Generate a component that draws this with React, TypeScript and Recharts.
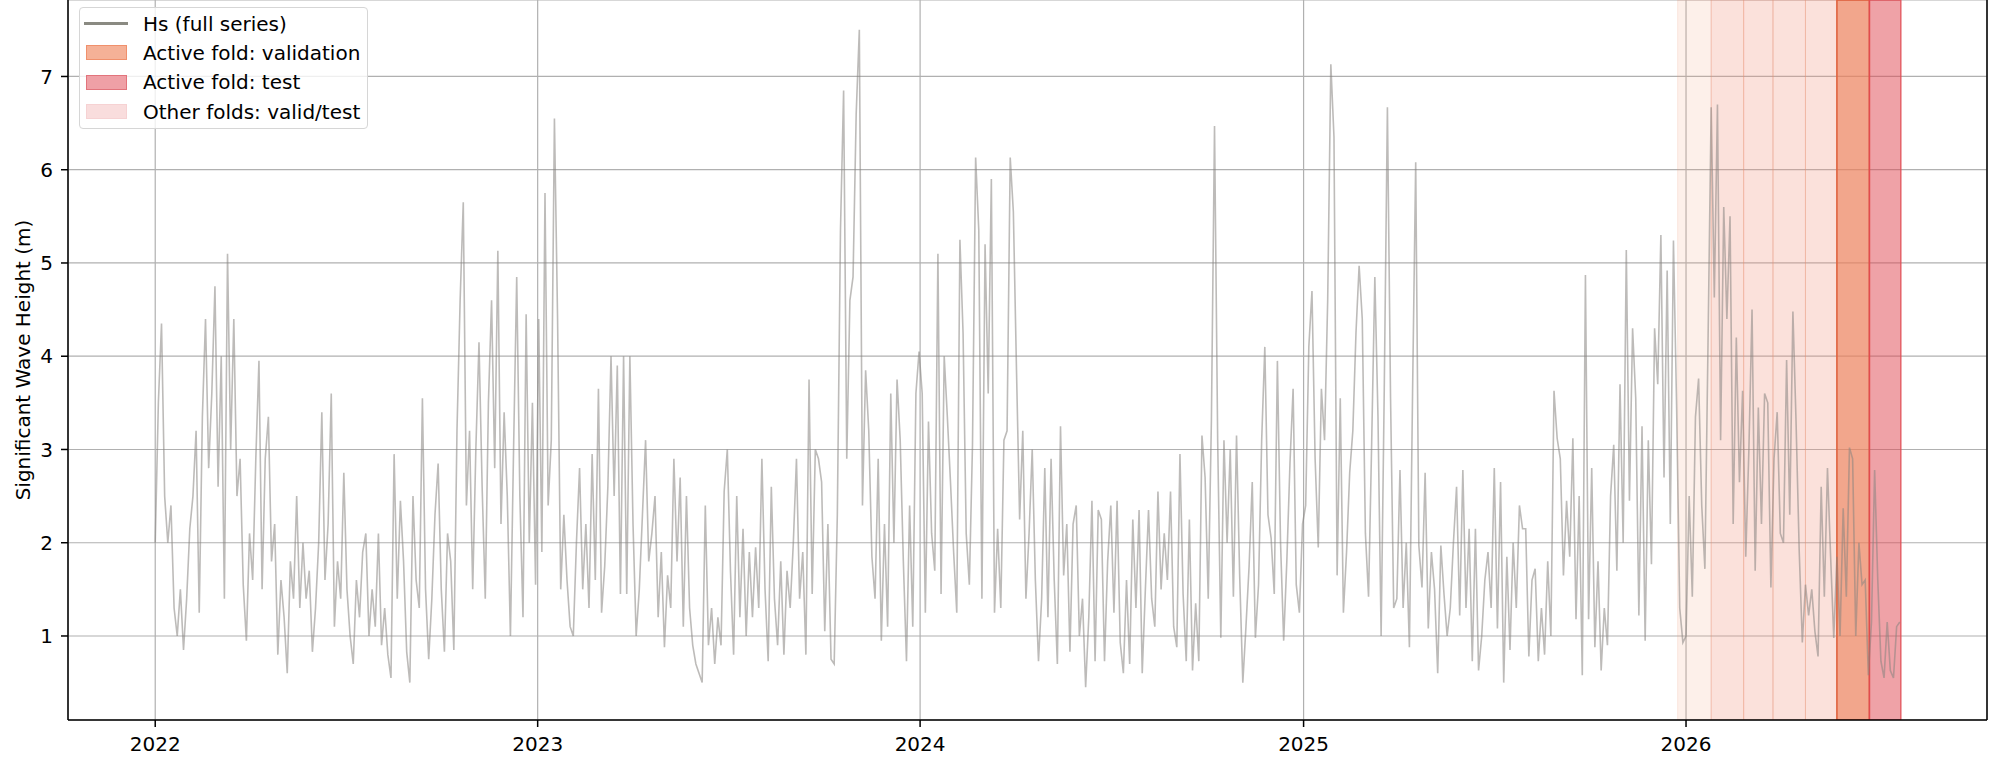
import React from 'react';
import {
  ComposedChart,
  Line,
  XAxis,
  YAxis,
  CartesianGrid,
  ReferenceArea,
  ReferenceLine,
} from 'recharts';

// Hs sampled every 3 days, day 0 = 2022-01-01
const STEP_DAYS = 3;

const hs2022 = [
  2.0, 3.5, 4.35, 2.5, 2.0, 2.4, 1.3, 1.0, 1.5, 0.85, 1.4,
  2.15, 2.5, 3.2, 1.25, 3.35, 4.4, 2.8, 3.6, 4.75,
  2.6, 4.0, 1.4, 5.1, 3.0, 4.4, 2.5, 2.9, 1.55, 0.95, 2.1,
  1.6, 2.9, 3.95, 1.5, 2.9, 3.35, 1.8, 2.2, 0.8, 1.6,
  1.2, 0.6, 1.8, 1.4, 2.5, 1.3, 2.0, 1.4, 1.7, 0.83,
  1.3, 2.0, 3.4, 1.6, 2.2, 3.6, 1.1, 1.8, 1.4, 2.75,
  1.5, 1.0, 0.7, 1.6, 1.2, 1.9, 2.1, 1.0, 1.5, 1.1,
  2.1, 0.9, 1.3, 0.8, 0.55, 2.95, 1.4, 2.45, 1.8, 0.83,
  0.5, 2.5, 1.6, 1.3, 3.55, 1.5, 0.75, 1.4, 2.3, 2.85,
  1.5, 0.83, 2.1, 1.8, 0.85, 3.2, 4.6, 5.65, 2.4, 3.2, 1.5,
  3.0, 4.15, 2.6, 1.4, 3.5, 4.6, 2.8, 5.13, 2.2, 3.4,
  2.5, 1.0, 3.0, 4.85, 2.5, 1.2, 4.45, 2.0, 3.5, 1.55,
];

const hs2023 = [
  4.4, 1.9, 5.75, 2.4, 3.1, 6.55, 4.4, 1.5, 2.3, 1.6,
  1.1, 1.0, 2.0, 2.8, 1.5, 2.2, 1.3, 2.95, 1.6,
  3.65, 1.25, 1.75, 2.6, 4.0, 2.5, 3.9, 1.45, 4.0, 1.45, 4.0,
  2.2, 1.0, 1.5, 2.3, 3.1, 1.8, 2.1, 2.5, 1.2, 1.9,
  0.88, 1.65, 1.3, 2.9, 1.8, 2.7, 1.1, 2.5, 1.3, 0.9,
  0.7, 0.6, 0.5, 2.4, 0.9, 1.3, 0.7, 1.2, 0.9, 2.55,
  3.0, 1.7, 0.8, 2.5, 1.2, 2.15, 1.0, 1.9, 1.2, 1.95,
  1.3, 2.9, 1.5, 0.73, 2.6, 1.4, 0.9, 1.8, 0.8, 1.7,
  1.3, 2.0, 2.9, 1.4, 1.9, 0.8, 3.75, 1.45, 3.0, 2.9,
  2.65, 1.05, 2.2, 0.75, 0.7, 2.3, 5.35, 6.85, 2.9, 4.6,
  4.85, 6.6, 7.5, 2.4, 3.85, 3.2, 1.85, 1.4, 2.9, 0.95,
  2.2, 1.1, 3.6, 2.0, 3.75, 3.1, 1.8, 0.73, 2.4, 1.1, 3.6, 4.05,
];

const hs2024 = [
  3.6, 1.25, 3.3, 2.1, 1.7, 5.1, 1.45, 4.0, 3.35, 2.65,
  1.9, 1.25, 5.25, 4.25, 2.1, 1.55, 3.05, 6.13, 5.35, 1.4,
  5.2, 3.6, 5.9, 1.25, 2.15, 1.3, 3.1, 3.2, 6.13, 5.55,
  3.85, 2.25, 3.2, 1.4, 2.1, 3.0, 1.6, 0.73, 1.4, 2.8,
  1.2, 2.9, 1.6, 0.7, 3.25, 1.65, 2.2, 0.83, 2.2, 2.4,
  1.0, 1.4, 0.45, 1.2, 2.45, 0.73, 2.35, 2.25, 0.73, 1.8,
  2.4, 1.25, 2.45, 0.93, 0.6, 1.6, 0.7, 2.25, 1.3, 2.35,
  0.6, 1.5, 2.35, 1.4, 1.1, 2.55, 1.5, 2.1, 1.6, 2.55,
  1.1, 0.88, 2.95, 1.45, 0.73, 2.25, 0.63, 1.35, 0.73, 3.15,
  2.7, 1.4, 3.3, 6.47, 3.1, 0.98, 3.1, 2.0, 3.0, 1.42,
  3.15, 1.65, 0.5, 1.1, 1.75, 2.65, 0.98, 1.55, 3.1, 4.1,
  2.3, 2.05, 1.45, 3.95, 2.0, 0.95, 1.8, 2.85, 3.65, 1.55, 1.25, 2.2,
];

const hs2025 = [
  2.4, 4.1, 4.7, 2.9, 1.95, 3.65, 3.1, 4.6, 7.13, 6.35,
  1.65, 3.55, 1.25, 1.9, 2.75, 3.2, 4.25, 4.97, 4.4, 2.1,
  1.42, 3.08, 4.85, 3.35, 1.0, 3.65, 6.67, 3.55, 1.3, 1.4,
  2.78, 1.3, 2.0, 0.88, 3.6, 6.08, 1.97, 1.52, 2.75, 1.08,
  1.9, 1.5, 0.6, 1.97, 1.45, 1.0, 1.3, 2.0, 2.6, 1.22,
  2.78, 1.3, 2.15, 0.73, 2.15, 0.63, 1.0, 1.6, 1.9, 1.3,
  2.8, 1.08, 2.65, 0.5, 1.85, 0.85, 2.0, 1.3, 2.4, 2.15,
  2.15, 0.78, 1.6, 1.72, 0.73, 1.3, 0.8, 1.8, 1.0, 3.63,
  3.12, 2.9, 1.65, 2.45, 1.85, 3.12, 1.18, 2.5, 0.58, 4.87,
  1.18, 2.8, 0.88, 1.8, 0.63, 1.3, 0.9, 2.5, 3.05, 1.7,
  3.7, 2.0, 5.14, 2.45, 4.3, 3.55, 1.22, 3.25, 0.95, 3.1,
  1.77, 4.3, 3.7, 5.3, 2.7, 4.92, 2.2, 5.24, 3.47, 1.3, 0.93, 1.0,
];

const hs2026 = [
  2.5, 1.42, 3.35, 3.76, 2.4, 1.72, 4.15, 6.67, 4.63, 6.7,
  3.1, 5.6, 4.4, 5.5, 2.2, 4.2, 2.65, 3.63, 1.85, 3.0,
  4.5, 1.7, 3.45, 2.2, 3.6, 3.5, 1.52, 2.9, 3.4, 2.1,
  2.0, 3.96, 2.3, 4.48, 3.3, 1.92, 0.93, 1.55, 1.22, 1.5,
  1.05, 0.78, 2.6, 1.42, 2.8, 1.85, 0.98, 1.85, 1.0, 2.37,
  1.42, 3.02, 2.9, 1.0, 2.0, 1.55, 1.6, 0.58, 1.15, 2.78,
  1.6, 0.73, 0.55, 1.15, 0.63, 0.55, 1.1, 1.15,
];

const yearTicks = [0, 365, 730, 1096, 1461];
const yearLabels = ['2022', '2023', '2024', '2025', '2026'];
const hsTicks = [1, 2, 3, 4, 5, 6, 7];

// fold boundaries (days), the 25th of each month Dec 2025 .. Jul 2026
const foldEdges = [1453, 1485, 1516, 1544, 1575, 1605, 1636, 1666];
const activeFold = 5;

const legendLabels = [
  'Hs (full series)',
  'Active fold: validation',
  'Active fold: test',
  'Other folds: valid/test',
];

const series = [...hs2022, ...hs2023, ...hs2024, ...hs2025, ...hs2026];
const data = series.map((hs, i) => ({ day: i * STEP_DAYS, hs }));

const X_DOMAIN: [number, number] = [-83.25, 1748.25];
const Y_DOMAIN: [number, number] = [0.099, 7.82];
const FONT = '"DejaVu Sans", sans-serif';

const swatches = [
  { kind: 'line', color: '#8a8a82' },
  { kind: 'box', fill: '#f5b197', border: '#f0906c' },
  { kind: 'box', fill: '#efa0a6', border: '#e2747c' },
  { kind: 'box', fill: '#f9dddd', border: '#f6d2d3' },
];

function LegendBox() {
  return (
    <div
      style={{
        position: 'absolute',
        left: 79,
        top: 7,
        width: 289,
        height: 122,
        boxSizing: 'border-box',
        border: '1px solid #d6d6d6',
        borderRadius: 4,
        background: 'rgba(255,255,255,0.8)',
        padding: '1px 0 3px 0',
        fontFamily: FONT,
        fontSize: 20,
        color: '#000',
      }}
    >
      {legendLabels.map((label, i) => {
        const s = swatches[i];
        return (
          <div key={label} style={{ height: 29.3, display: 'flex', alignItems: 'center' }}>
            {s.kind === 'line' ? (
              <div style={{ marginLeft: 4, width: 44, height: 3.5, background: s.color }} />
            ) : (
              <div
                style={{
                  marginLeft: 6,
                  width: 41,
                  height: 15,
                  boxSizing: 'border-box',
                  background: s.fill,
                  border: `1.5px solid ${s.border}`,
                }}
              />
            )}
            <span style={{ marginLeft: s.kind === 'line' ? 15 : 16, whiteSpace: 'nowrap', lineHeight: '20px' }}>
              {label}
            </span>
          </div>
        );
      })}
    </div>
  );
}

export default function App() {
  const otherFolds = [];
  for (let k = 0; k < activeFold; k++) {
    otherFolds.push(
      <ReferenceArea
        key={`ov${k}`}
        x1={foldEdges[k]}
        x2={foldEdges[k + 1]}
        fill="#f4a582"
        fillOpacity={0.17}
        stroke="#e8967a"
        strokeOpacity={0.18}
        ifOverflow="hidden"
      />,
      <ReferenceArea
        key={`ot${k}`}
        x1={foldEdges[k + 1]}
        x2={foldEdges[k + 2]}
        fill="#f08080"
        fillOpacity={0.14}
        stroke="#e8967a"
        strokeOpacity={0.18}
        ifOverflow="hidden"
      />,
    );
  }

  return (
    <div style={{ position: 'absolute', left: 0, top: 0, width: 2000, height: 769, background: '#fff' }}>
      <ComposedChart
        width={2000}
        height={769}
        data={data}
        margin={{ top: 0, right: 13, bottom: 0, left: 0 }}
      >
        <CartesianGrid stroke="#b0b0b0" strokeWidth={1.2} />
        {otherFolds}
        <ReferenceArea
          x1={foldEdges[activeFold]}
          x2={foldEdges[activeFold + 1]}
          fill="#ed8058"
          fillOpacity={0.65}
          stroke="#e0603c"
          strokeWidth={1.5}
          ifOverflow="hidden"
        />
        <ReferenceArea
          x1={foldEdges[activeFold + 1]}
          x2={foldEdges[activeFold + 2]}
          fill="#e0454f"
          fillOpacity={0.5}
          stroke="#e04a52"
          strokeWidth={1.5}
          strokeOpacity={0.8}
          ifOverflow="hidden"
        />
        <XAxis
          dataKey="day"
          type="number"
          domain={X_DOMAIN}
          allowDataOverflow
          ticks={yearTicks}
          tickFormatter={(v: number) => yearLabels[yearTicks.indexOf(v)]}
          height={49}
          tickSize={7}
          tickMargin={10}
          axisLine={{ stroke: '#000', strokeWidth: 1.5 }}
          tickLine={{ stroke: '#000', strokeWidth: 1.5 }}
          tick={{ fontSize: 20, fill: '#000', fontFamily: FONT }}
        />
        <YAxis
          type="number"
          domain={Y_DOMAIN}
          allowDataOverflow
          ticks={hsTicks}
          width={68}
          tickSize={7}
          tickMargin={8}
          axisLine={{ stroke: '#000', strokeWidth: 1.5 }}
          tickLine={{ stroke: '#000', strokeWidth: 1.5 }}
          tick={{ fontSize: 20, fill: '#000', fontFamily: FONT }}
          label={() => (
            <text
              x={23}
              y={360}
              transform="rotate(-90 23 360)"
              textAnchor="middle"
              dominantBaseline="central"
              fontSize={20}
              fontFamily={FONT}
              fill="#000"
            >
              Significant Wave Height (m)
            </text>
          )}
        />
        <ReferenceLine x={X_DOMAIN[1]} stroke="#000" strokeWidth={1.5} ifOverflow="extendDomain" />
        <Line
          type="linear"
          dataKey="hs"
          stroke="#87847f"
          strokeOpacity={0.55}
          strokeWidth={1.6}
          dot={false}
          activeDot={false}
          isAnimationActive={false}
        />
      </ComposedChart>
      <LegendBox />
    </div>
  );
}
